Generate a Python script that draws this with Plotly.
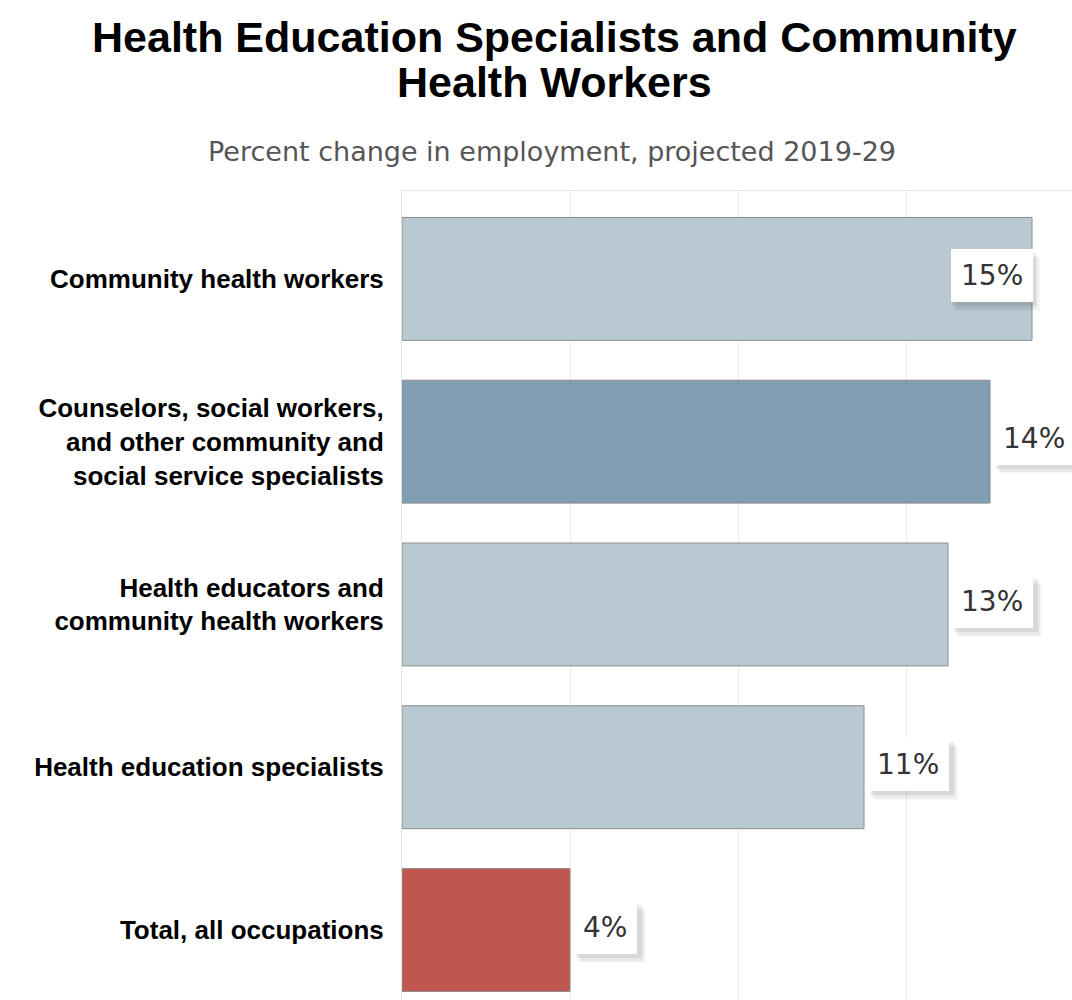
import plotly.graph_objects as go

categories = [
    "Community health workers",
    "Counselors, social workers,<br>and other community and<br>social service specialists",
    "Health educators and<br>community health workers",
    "Health education specialists",
    "Total, all occupations",
]
values = [15, 14, 13, 11, 4]
bar_colors = ["#b9c9d2", "#809eb1", "#b9c9d2", "#b9c9d2", "#c0574f"]

title_lines = ["Health Education Specialists and Community", "Health Workers"]
subtitle_text = "Percent change in employment, projected 2019-29"

PLOT_L, PLOT_T, W, H = 402, 191, 1072, 1000
plot_w, plot_h = W - PLOT_L, H - PLOT_T


def px_x(x):
    return (x - PLOT_L) / plot_w


def px_y(y):
    return 1 + (PLOT_T - y) / plot_h


fig = go.Figure()
fig.add_trace(go.Bar(
    x=values,
    y=categories,
    orientation="h",
    marker=dict(color=bar_colors, line=dict(color="#8c8c8c", width=1)),
    hoverinfo="skip",
))

vmax = max(values)
annotations = []
for cat, v in zip(categories, values):
    inside = v == vmax
    anchor = "right" if inside else "left"
    base_shift = 1 if inside else 3
    label = f"{v}%"
    # blank spacer with the same width as the label (figure spaces + em space)
    spacer = "\u2007" * len(str(v)) + "\u2003"
    for dx, dy, a in [(7, -9, 0.035), (5, -7, 0.05), (3, -4, 0.07)]:
        annotations.append(dict(
            x=v, y=cat, xref="x", yref="y", text=spacer, showarrow=False,
            xanchor=anchor, yanchor="middle", xshift=base_shift + dx, yshift=3 + dy,
            font=dict(family="DejaVu Sans", size=28, color="rgba(0,0,0,0)"),
            bgcolor=f"rgba(0,0,0,{a})", borderpad=10, borderwidth=0,
        ))
    annotations.append(dict(
        x=v, y=cat, xref="x", yref="y", text=label, showarrow=False,
        xanchor=anchor, yanchor="middle", xshift=base_shift, yshift=3,
        font=dict(family="DejaVu Sans", size=28, color="#333333"),
        bgcolor="#ffffff", borderpad=10, borderwidth=0,
    ))

# subtitle
annotations.append(dict(
    x=px_x(552), y=px_y(152), xref="paper", yref="paper", text=subtitle_text,
    showarrow=False, xanchor="center", yanchor="middle",
    font=dict(family="DejaVu Sans", size=27, color="#555555"),
))
# title lines
for line, yc in zip(title_lines, [37, 82]):
    annotations.append(dict(
        x=px_x(554), y=px_y(yc), xref="paper", yref="paper", text=line,
        showarrow=False, xanchor="center", yanchor="middle",
        font=dict(family="Liberation Sans", size=43, color="#000000", weight="bold"),
    ))

fig.update_layout(
    width=W, height=H,
    margin=dict(l=PLOT_L, r=0, t=PLOT_T, b=0, autoexpand=False),
    paper_bgcolor="white", plot_bgcolor="white",
    showlegend=False,
    bargap=0.245,
    annotations=annotations,
    xaxis=dict(
        range=[0, 670 / 42], dtick=4, showticklabels=False, ticks="",
        showgrid=True, gridcolor="#ebebeb", gridwidth=1, zeroline=False,
        showline=True, linecolor="#e3e3e3", linewidth=1, mirror=True,
        fixedrange=True,
    ),
    yaxis=dict(
        range=[4.43, -0.54], type="category", ticks="", showgrid=False,
        showline=True, linecolor="#e3e3e3", linewidth=1, mirror=True,
        tickfont=dict(family="Liberation Sans", size=26, color="#000000", weight="bold"),
        ticklabelstandoff=12, automargin=False, fixedrange=True,
    ),
)

fig.write_html("out.html")
